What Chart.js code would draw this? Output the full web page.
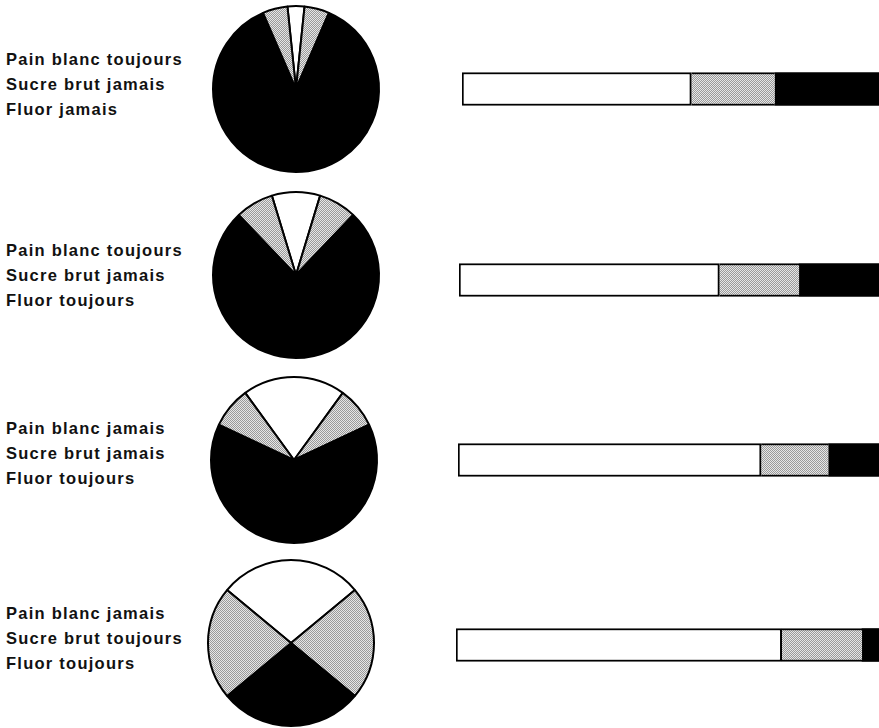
<!DOCTYPE html>
<html>
<head>
<meta charset="utf-8">
<script src="https://cdn.jsdelivr.net/npm/chart.js@4"></script>
<style>
  html, body { margin: 0; padding: 0; background: #fff; }
  body { width: 879px; height: 728px; position: relative; overflow: hidden; }
  .label {
    position: absolute; left: 6px;
    font-family: "Liberation Sans", Arial, sans-serif;
    font-weight: bold; font-size: 16.5px; line-height: 25px;
    letter-spacing: 1.25px; color: #111; white-space: nowrap;
  }
  canvas { position: absolute; }
</style>
</head>
<body>
<div id="rows"></div>
<script>
// one row per diet
const rowLabels = [
  ["Pain blanc toujours", "Sucre brut jamais", "Fluor jamais"],
  ["Pain blanc toujours", "Sucre brut jamais", "Fluor toujours"],
  ["Pain blanc jamais", "Sucre brut jamais", "Fluor toujours"],
  ["Pain blanc jamais", "Sucre brut toujours", "Fluor toujours"],
];

// pie shares (%): white / stippled / black
const pieWhite = [3.3, 9.4, 20, 28];
const pieGray = [9.7, 14.8, 16, 44];
const pieBlack = [87, 75.8, 64, 28];

// bar shares (%): white / stippled / black
const barWhite = [55, 62, 72, 77];
const barGray = [20, 19, 16, 19];
const barBlack = [25, 19, 12, 4];

// layout only
const labelTops = [47, 238, 416, 601];
const pieCenters = [[296, 89], [296, 275], [294, 460], [291, 643]];
const barLefts = [462, 459, 458, 456];
const barMids = [89, 280, 460, 645];

function stipple() {
  const c = document.createElement("canvas");
  c.width = 2;
  c.height = 2;
  const g = c.getContext("2d");
  g.fillStyle = "#e6e6e6";
  g.fillRect(0, 0, 2, 2);
  g.fillStyle = "#9a9a9a";
  g.fillRect(0, 0, 1, 1);
  g.fillRect(1, 1, 1, 1);
  return g.createPattern(c, "repeat");
}

function addCanvas(box, w, h, left, top) {
  const cv = document.createElement("canvas");
  cv.width = w;
  cv.height = h;
  cv.style.left = left + "px";
  cv.style.top = top + "px";
  box.appendChild(cv);
  return cv.getContext("2d");
}

function initializeCharts() {
  const gray = stipple();
  const box = document.getElementById("rows");
  const noPlugins = { legend: { display: false }, tooltip: { enabled: false } };

  rowLabels.forEach(function (lines, i) {
    const div = document.createElement("div");
    div.className = "label";
    div.style.top = labelTops[i] + "px";
    div.innerHTML = lines.join("<br>");
    box.appendChild(div);

    // pie
    new Chart(addCanvas(box, 180, 180, pieCenters[i][0] - 90, pieCenters[i][1] - 90), {
      type: "pie",
      data: {
        labels: ["blanc", "gris", "noir", "gris"],
        datasets: [
          {
            data: [pieWhite[i], pieGray[i] / 2, pieBlack[i], pieGray[i] / 2],
            backgroundColor: ["#ffffff", gray, "#000000", gray],
            borderColor: "#000000",
            borderWidth: 2,
            radius: 83,
          },
        ],
      },
      options: {
        responsive: false,
        animation: false,
        rotation: -pieWhite[i] * 1.8,
        layout: { padding: 0 },
        plugins: noPlugins,
      },
    });

    // stacked bar
    new Chart(addCanvas(box, 879 - barLefts[i], 40, barLefts[i], barMids[i] - 20), {
      type: "bar",
      data: {
        labels: [""],
        datasets: [
          {
            data: [barWhite[i]],
            backgroundColor: "#ffffff",
            borderColor: "#000000",
            borderWidth: 2,
            borderSkipped: false,
            barThickness: 33,
          },
          {
            data: [barGray[i]],
            backgroundColor: gray,
            borderColor: "#000000",
            borderWidth: { top: 2, bottom: 2, left: 0, right: 0 },
            borderSkipped: false,
            barThickness: 33,
          },
          {
            data: [barBlack[i]],
            backgroundColor: "#000000",
            borderWidth: 0,
            barThickness: 33,
          },
        ],
      },
      options: {
        indexAxis: "y",
        responsive: false,
        animation: false,
        layout: { padding: 0 },
        scales: {
          x: { stacked: true, min: 0, max: 100, display: false },
          y: { stacked: true, display: false },
        },
        plugins: noPlugins,
      },
    });
  });
}

if (document.readyState === "loading") {
  document.addEventListener("DOMContentLoaded", initializeCharts);
} else {
  initializeCharts();
}
</script>
</body>
</html>
